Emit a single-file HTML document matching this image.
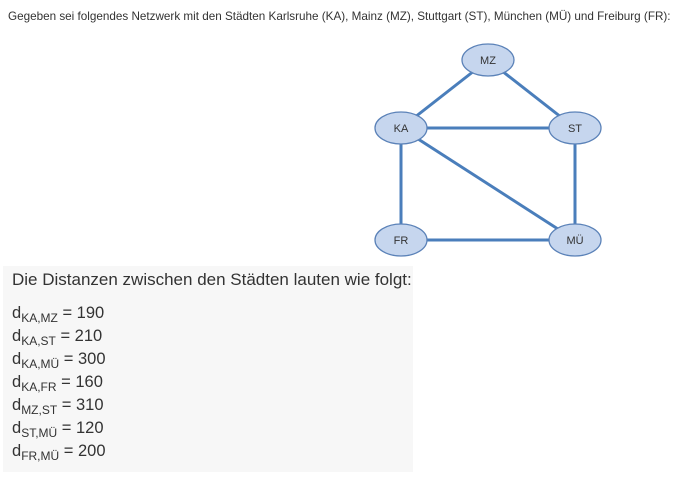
<!DOCTYPE html>
<html><head><meta charset="utf-8"><style>
body{margin:0;width:678px;height:480px;background:#fff;font-family:"Liberation Sans",sans-serif;position:relative;overflow:hidden;color:#333}
.top{position:absolute;left:8px;top:10px;font-size:11.7px;color:#333;white-space:nowrap}
.box{position:absolute;left:3px;top:266px;width:410px;height:206px;background:#f7f7f7}
.h{position:absolute;left:12px;top:270px;font-size:17px;white-space:nowrap}
.l{position:absolute;left:12px;font-size:16.5px;white-space:nowrap}
.l sub{font-size:12px;vertical-align:-4px}
</style></head><body>
<div class="top">Gegeben sei folgendes Netzwerk mit den Städten Karlsruhe (KA), Mainz (MZ), Stuttgart (ST), München (MÜ) und Freiburg (FR):</div>
<svg style="position:absolute;left:0;top:0" width="678" height="266">
<g stroke="#4a7ebb" stroke-width="3">
<line x1="401" y1="128" x2="488" y2="60"/><line x1="488" y1="60" x2="575" y2="128"/>
<line x1="401" y1="128" x2="575" y2="128"/><line x1="401" y1="128" x2="575" y2="240"/>
<line x1="401" y1="128" x2="401" y2="240"/><line x1="575" y1="128" x2="575" y2="240"/>
<line x1="401" y1="240" x2="575" y2="240"/></g>
<g fill="#c6d6ee" stroke="#5b82b8" stroke-width="1.3">
<ellipse cx="488" cy="60" rx="26" ry="16"/><ellipse cx="401" cy="128" rx="26" ry="16"/>
<ellipse cx="575" cy="128" rx="26" ry="16"/><ellipse cx="401" cy="240" rx="26" ry="16"/>
<ellipse cx="575" cy="240" rx="26" ry="16"/></g>
<g font-family="Liberation Sans" font-size="11" fill="#333" text-anchor="middle">
<text x="488" y="64">MZ</text><text x="401" y="132">KA</text><text x="575" y="132">ST</text>
<text x="401" y="244">FR</text><text x="575" y="244">MÜ</text></g>
</svg>
<div class="box"></div>
<div class="h">Die Distanzen zwischen den Städten lauten wie folgt:</div>
<div class="l" style="top:304px">d<sub>KA,MZ</sub> = 190</div>
<div class="l" style="top:327px">d<sub>KA,ST</sub> = 210</div>
<div class="l" style="top:350px">d<sub>KA,MÜ</sub> = 300</div>
<div class="l" style="top:373px">d<sub>KA,FR</sub> = 160</div>
<div class="l" style="top:396px">d<sub>MZ,ST</sub> = 310</div>
<div class="l" style="top:419px">d<sub>ST,MÜ</sub> = 120</div>
<div class="l" style="top:442px">d<sub>FR,MÜ</sub> = 200</div>
</body></html>
